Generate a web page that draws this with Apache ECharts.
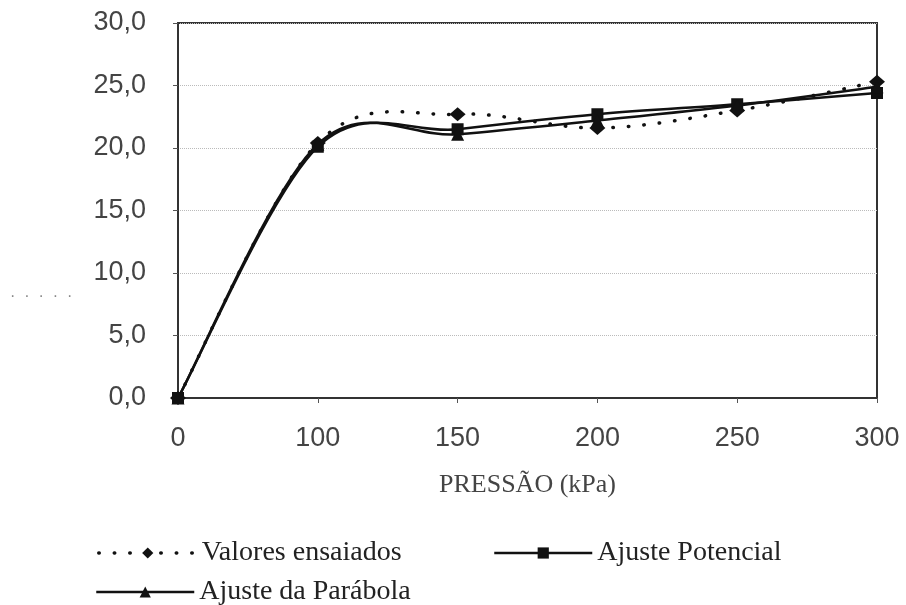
<!DOCTYPE html>
<html>
<head>
<meta charset="utf-8">
<script src="https://cdn.jsdelivr.net/npm/echarts@6/dist/echarts.min.js"></script>
<style>html,body{margin:0;padding:0;background:#fff;}#chart{width:906px;height:605px;}</style>
</head>
<body>
<div id="chart"></div>
<script>
var categories = ['0', '100', '150', '200', '250', '300'];
var valoresEnsaiados = [0, 20.4, 22.7, 21.6, 23.0, 25.3];
var ajustePotencial = [0, 20.1, 21.5, 22.7, 23.5, 24.4];
var ajusteParabola = [0, 20.3, 21.1, 22.2, 23.4, 24.9];
var yTicks = {min: 0, max: 30, interval: 5};
var xAxisName = 'PRESSÃO (kPa)';
var names = ['Valores ensaiados', 'Ajuste Potencial', 'Ajuste da Parábola'];

var chart = echarts.init(document.getElementById('chart'), null, {renderer: 'canvas'});
var sans = 'Liberation Sans';
var serif = 'Liberation Serif';
var legendText = {fontFamily: serif, fontSize: 28, color: '#222'};
var DOTS = [0.5, 15];

// Excel-like smoothed curve (Catmull-Rom bezier) drawn through axis coordinates
function smoothCurve(values, dash, z) {
  return {
    type: 'custom', z: z, silent: true,
    data: values.map(function (v, i) { return [i, v]; }),
    encode: {x: 0, y: 1},
    renderItem: function (params, api) {
      var i = params.dataIndex;
      if (i >= values.length - 1) return null;
      var p = values.map(function (v, k) { return api.coord([k, v]); });
      var p0 = p[i - 1] || p[i], p1 = p[i], p2 = p[i + 1], p3 = p[i + 2] || p[i + 1];
      return {
        type: 'bezierCurve',
        shape: {
          x1: p1[0], y1: p1[1], x2: p2[0], y2: p2[1],
          cpx1: p1[0] + (p2[0] - p0[0]) / 6, cpy1: p1[1] + (p2[1] - p0[1]) / 6,
          cpx2: p2[0] - (p3[0] - p1[0]) / 6, cpy2: p2[1] - (p3[1] - p1[1]) / 6
        },
        style: {stroke: '#111', lineWidth: dash ? 3.5 : 2.5, fill: 'none', lineDash: dash || null, lineCap: dash ? 'round' : 'butt'}
      };
    }
  };
}

function markerSeries(name, values, symbol, size) {
  return {
    name: name, type: 'line', data: values, z: 6,
    symbol: symbol, symbolSize: size,
    lineStyle: {color: '#111', width: 2.5, opacity: 0},
    itemStyle: {color: '#111'}
  };
}

function legendItem(name, dash) {
  return {name: name, lineStyle: {opacity: 1, color: '#111', width: dash ? 3.5 : 2.5, type: dash || 'solid', cap: dash ? 'round' : 'butt'}};
}

chart.setOption({
  animation: false,
  backgroundColor: '#fff',
  grid: {left: 178, right: 29, top: 23, bottom: 207, show: true, borderColor: '#333', borderWidth: 2},
  xAxis: {
    type: 'category', data: categories, boundaryGap: false,
    name: xAxisName, nameLocation: 'middle', nameGap: 74,
    nameTextStyle: {fontFamily: serif, fontSize: 26, color: '#444'},
    axisLine: {lineStyle: {color: '#333', width: 2}},
    axisTick: {show: true, length: 5, lineStyle: {color: '#555'}},
    axisLabel: {fontFamily: sans, fontSize: 27, color: '#444', margin: 27},
    splitLine: {show: false}
  },
  yAxis: {
    type: 'value', min: yTicks.min, max: yTicks.max, interval: yTicks.interval,
    axisLine: {show: true, lineStyle: {color: '#333', width: 2}},
    axisTick: {show: true, length: 5, lineStyle: {color: '#555'}},
    axisLabel: {fontFamily: sans, fontSize: 27, color: '#444', margin: 32,
      formatter: function (v) { return v.toFixed(1).replace('.', ','); }},
    splitLine: {show: true, lineStyle: {color: '#bbb', type: 'dotted', width: 1}}
  },
  legend: [
    {left: 92, top: 534, data: [legendItem(names[0], DOTS)], itemWidth: 98, itemHeight: 14, itemGap: 0, textStyle: legendText},
    {left: 488, top: 534, data: [legendItem(names[1])], itemWidth: 98, itemHeight: 14, itemGap: 0, textStyle: legendText},
    {left: 90, top: 573, data: [legendItem(names[2])], itemWidth: 98, itemHeight: 14, itemGap: 0, textStyle: legendText}
  ],
  graphic: [
    {type: 'text', left: 10, top: 289, style: {text: '·  ·  ·  ·  ·', font: '16px Liberation Sans', fill: '#888'}}
  ],
  series: [
    smoothCurve(valoresEnsaiados, DOTS, 2),
    smoothCurve(ajustePotencial, null, 3),
    smoothCurve(ajusteParabola, null, 4),
    markerSeries(names[0], valoresEnsaiados, 'diamond', [16, 14]),
    markerSeries(names[1], ajustePotencial, 'rect', 12),
    markerSeries(names[2], ajusteParabola, 'triangle', 13)
  ]
});
</script>
</body>
</html>
